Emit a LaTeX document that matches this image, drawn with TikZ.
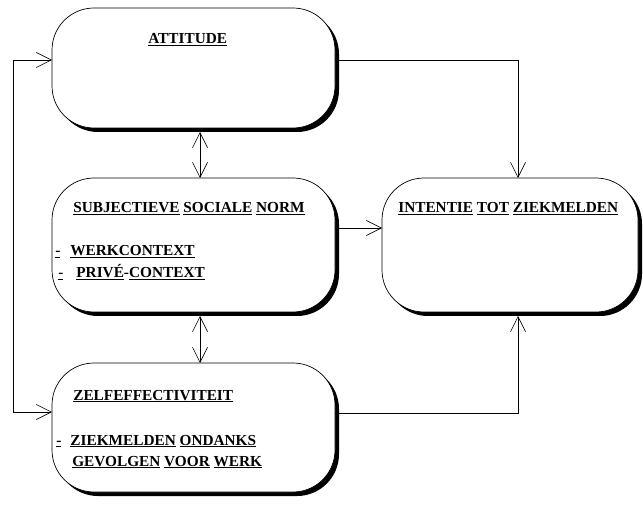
\documentclass[tikz,border=0pt]{standalone}
\usepackage{fontspec}
\setmainfont{Liberation Serif}
\usetikzlibrary{arrows.meta,shadows}

\newcommand{\uw}[1]{\underline{#1}}

\tikzset{
  box/.style={draw, line width=0.7pt, rounded corners=42pt, fill=white,
    minimum width=283pt, inner sep=0pt, outer sep=0pt,
    drop shadow={shadow xshift=4pt, shadow yshift=-4pt, fill=black, opacity=1}},
  lbl/.style={anchor=base west, inner sep=0pt,
    font=\fontsize{15.3}{18}\selectfont\bfseries},
}

\begin{document}
\begin{tikzpicture}[x=1pt, y=-1pt, >={Straight Barb[length=15pt,width=15pt]}, line width=0.6pt]
\useasboundingbox (0,0) rectangle (643,505);

% the four boxes
\node [box, minimum height=120pt] (att) at (193.5,68) {};
\node [box, minimum height=134pt] (norm) at (193.5,245) {};
\node [box, minimum height=129pt] (zelf) at (193.5,427.5) {};
\node [box, minimum width=256pt, minimum height=134pt] (int) at (510,245) {};

% texts
\node [lbl] (att-t) at (148,44) {\uw{ATTITUDE}};
\node [lbl] (norm-t) at (73,213) {\uw{SUBJECTIEVE} \uw{SOCIALE} \uw{NORM}};
\node [lbl] (norm-a) at (55,256) {\uw{-}\hspace{10pt}\uw{WERKCONTEXT}};
\node [lbl] (norm-b) at (58,278) {\uw{-}\hspace{13pt}\uw{PRIVÉ}-\uw{CONTEXT}};
\node [lbl] (zelf-t) at (73,400) {\uw{ZELFEFFECTIVITEIT}};
\node [lbl] (zelf-a) at (56,445) {\uw{-}\hspace{9pt}\uw{ZIEKMELDEN} \uw{ONDANKS}};
\node [lbl] (zelf-b) at (72,466) {\uw{GEVOLGEN} \uw{VOOR} \uw{WERK}};
\node [lbl] (int-t) at (398,213) {\uw{INTENTIE} \uw{TOT} \uw{ZIEKMELDEN}};

% connectors
\draw [<->] ([yshift=8pt]att.west) -- ++(-39,0) |- ([yshift=15.5pt]zelf.west);
\draw [<->] ([xshift=6.5pt,yshift=-4pt]att.south) -- ([xshift=6.5pt]norm.north);
\draw [<->] ([xshift=6.5pt,yshift=-4pt]norm.south) -- ([xshift=6.5pt]zelf.north);
\draw [->] ([yshift=8pt]att.east) -| ([xshift=8pt]int.north);
\draw [->] ([yshift=17pt]norm.east) -- ([yshift=17pt]int.west);
\draw [->] ([yshift=14.5pt]zelf.east) -| ([xshift=8pt,yshift=-4pt]int.south);
\end{tikzpicture}
\end{document}
